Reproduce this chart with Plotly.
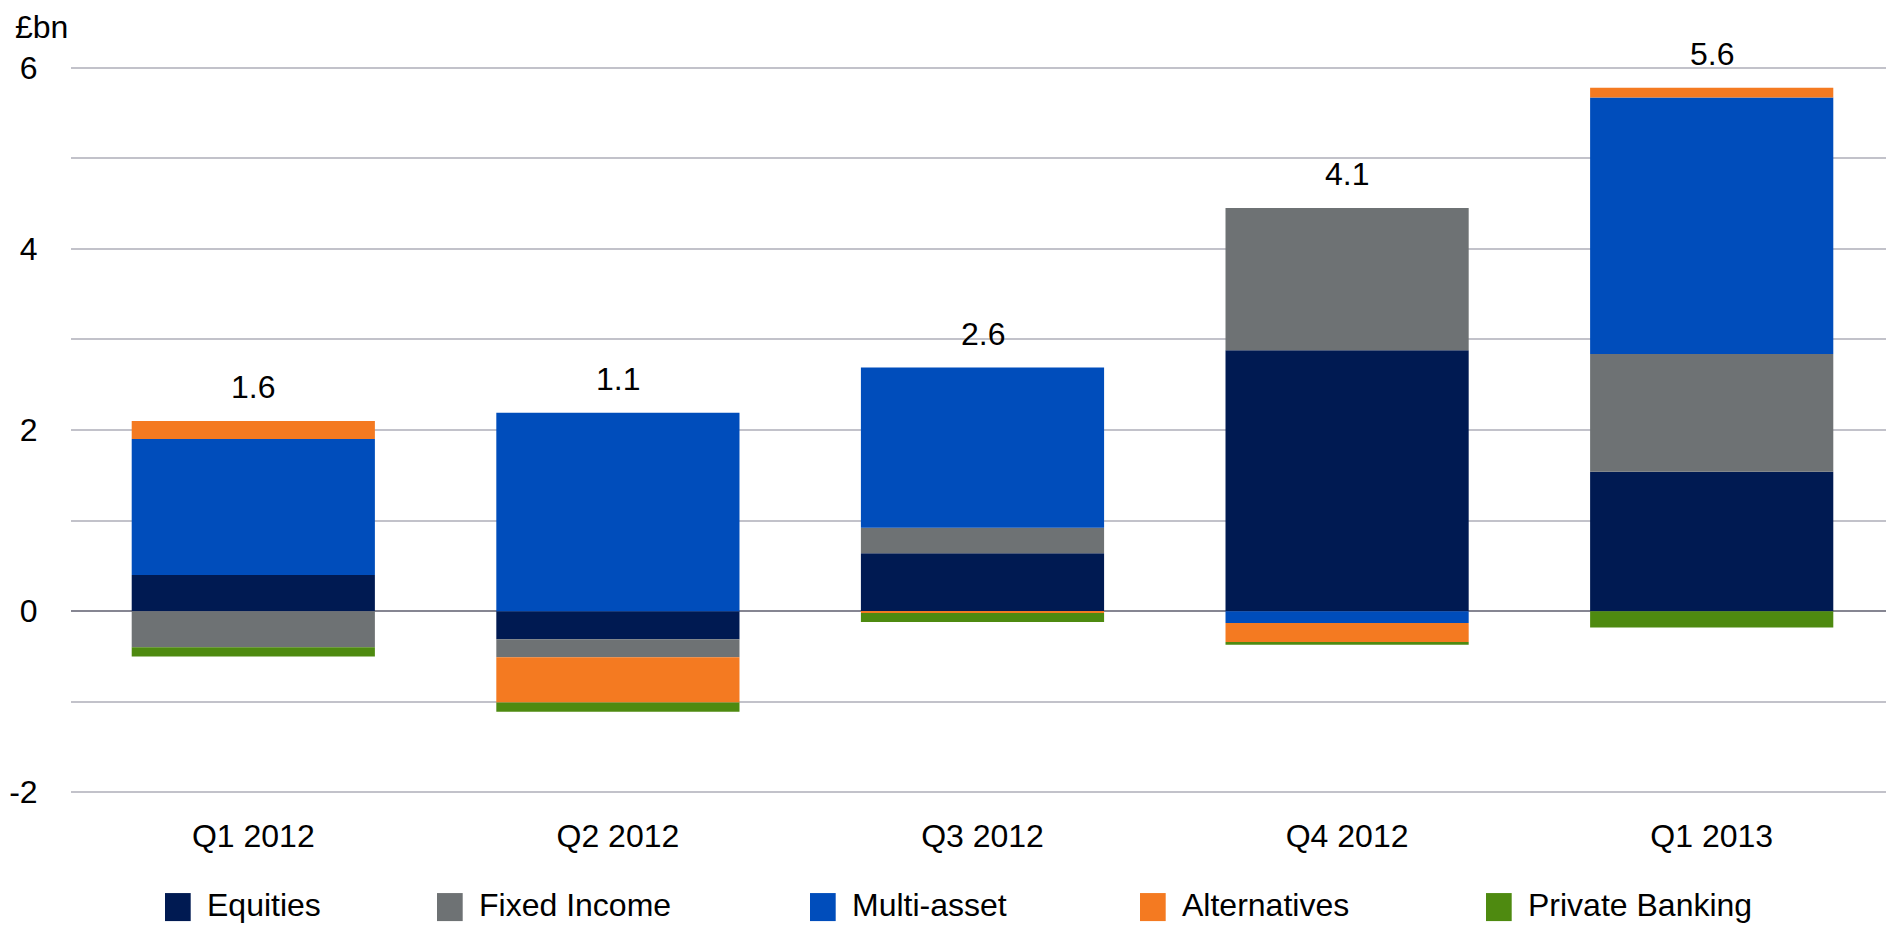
import plotly.graph_objects as go

# ---- data ----
quarters = ["Q1 2012", "Q2 2012", "Q3 2012", "Q4 2012", "Q1 2013"]
equities = [0.40, -0.31, 0.64, 2.88, 1.54]
fixed_income = [-0.40, -0.20, 0.28, 1.57, 1.30]
multi_asset = [1.50, 2.19, 1.77, -0.13, 2.83]
alternatives = [0.20, -0.50, -0.02, -0.21, 0.11]
private_banking = [-0.10, -0.10, -0.10, -0.03, -0.18]
totals = [1.6, 1.1, 2.6, 4.1, 5.6]
y_ticks = [-2, 0, 2, 4, 6]
y_tick_labels = ["-2", "0", "2", "4", "6"]
unit_label = "£bn"

series_names = ["Equities", "Fixed Income", "Multi-asset", "Alternatives", "Private Banking"]
series_values = [equities, fixed_income, multi_asset, alternatives, private_banking]
series_colors = ["#001A52", "#6E7274", "#004DBB", "#F47A21", "#4E8A10"]

# ---- layout geometry (page pixels; the page body has an 8px margin) ----
OFF = 8
W, H = 1894 - OFF, 925 - OFF
L, R, T, B = 71 - OFF, W, 68 - OFF, 792 - OFF
PADU = 0.03
Y0, Y1 = -2 - PADU, 6 + PADU
UNIT = (B - T) / 8.0
T_ext = T - PADU * UNIT
B_ext = B + PADU * UNIT
FONT = "Liberation Sans, Arial, sans-serif"
FS = 32

def px_x(p):
    return (p - OFF - L) / (R - L)

def px_y(p):
    return (B_ext - (p - OFF)) / (B_ext - T_ext)

fig = go.Figure()
for name, vals, col in zip(series_names, series_values, series_colors):
    fig.add_trace(go.Bar(
        x=quarters, y=vals, name=name,
        marker=dict(color=col, line=dict(width=0)),
        showlegend=False,
    ))

annotations = []
for q, tot, *vals in zip(quarters, totals, *series_values):
    pos_top = sum(v for v in vals if v > 0)
    annotations.append(dict(
        x=q, y=pos_top, xref="x", yref="y", text=f"{tot:.1f}",
        showarrow=False, yanchor="bottom", yshift=14,
        font=dict(family=FONT, size=FS, color="#000000"),
    ))

annotations.append(dict(
    x=px_x(14), y=px_y(OFF), xref="paper", yref="paper", text=unit_label,
    showarrow=False, xanchor="left", yanchor="top", borderpad=0,
    font=dict(family=FONT, size=FS, color="#000000"),
))

legend_x = [165, 437, 810, 1140, 1486]
shapes = []
for lx, name, col in zip(legend_x, series_names, series_colors):
    shapes.append(dict(
        type="rect", xref="paper", yref="paper",
        x0=px_x(lx), x1=px_x(lx + 25.7), y0=px_y(920.7), y1=px_y(892.7),
        fillcolor=col, line=dict(width=0),
    ))
    annotations.append(dict(
        x=px_x(lx + 40), y=px_y(905), xref="paper", yref="paper", text=name,
        showarrow=False, xanchor="left", yanchor="middle",
        font=dict(family=FONT, size=FS, color="#000000"),
    ))

fig.update_layout(
    width=W, height=H,
    margin=dict(l=L, r=0, t=T_ext, b=H - B_ext, pad=0),
    paper_bgcolor="white", plot_bgcolor="white",
    barmode="relative", bargap=0.333,
    font=dict(family=FONT, size=FS, color="#000000"),
    annotations=annotations, shapes=shapes,
    showlegend=False,
)
fig.update_xaxes(
    range=[-0.5, 4.5], showgrid=False, showline=False, zeroline=False,
    ticks="outside", ticklen=13, tickcolor="rgba(0,0,0,0)",
    tickfont=dict(family=FONT, size=FS, color="#000000"),
)
fig.update_yaxes(
    range=[Y0, Y1], tickvals=y_ticks, ticktext=y_tick_labels, showgrid=True,
    gridcolor="#C2C2CA", gridwidth=1.6,
    minor=dict(dtick=1, tick0=0, showgrid=True, gridcolor="#C2C2CA", gridwidth=1.6),
    zeroline=True, zerolinecolor="#868692", zerolinewidth=2,
    showline=False, ticks="outside", ticklen=26, tickcolor="rgba(0,0,0,0)",
    tickfont=dict(family=FONT, size=FS, color="#000000"),
)

fig.write_html("out.html")
